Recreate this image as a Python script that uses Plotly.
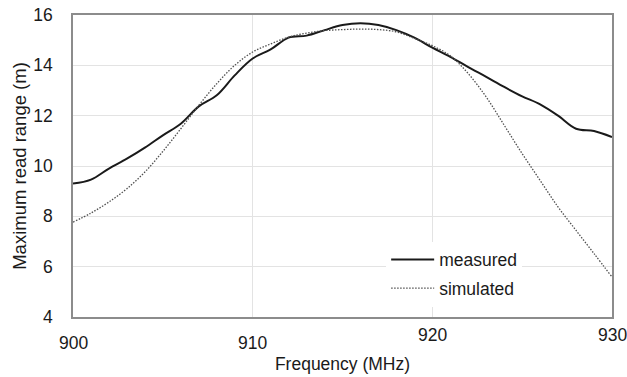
import plotly.graph_objects as go

freq = list(range(900, 931))
measured = [9.30, 9.46, 9.90, 10.29, 10.73, 11.22, 11.68, 12.37, 12.81, 13.60,
            14.27, 14.63, 15.10, 15.18, 15.40, 15.60, 15.67, 15.60, 15.40, 15.10,
            14.70, 14.34, 13.93, 13.54, 13.14, 12.77, 12.45, 12.00, 11.48, 11.39, 11.15]
simulated = [7.77, 8.13, 8.57, 9.10, 9.76, 10.58, 11.48, 12.41, 13.27, 14.00,
             14.53, 14.85, 15.12, 15.28, 15.38, 15.42, 15.44, 15.42, 15.33, 15.07,
             14.78, 14.38, 13.67, 12.74, 11.62, 10.49, 9.43, 8.37, 7.44, 6.52, 5.59]

x_ticks = [900, 910, 920, 930]
x_tick_labels = ["900", "910", "920", "930"]
y_ticks = [4, 6, 8, 10, 12, 14, 16]

FONT = "Liberation Sans, Arial, sans-serif"

fig = go.Figure()
fig.add_trace(go.Scatter(x=freq, y=measured, name="measured", mode="lines",
                         line=dict(color="#1a1a1a", width=2, shape="spline"),
                         legendgroup="a"))
fig.add_trace(go.Scatter(x=freq, y=simulated, name="simulated", mode="lines",
                         line=dict(color="#505050", width=1.3, dash="1.5px,1.5px", shape="spline"),
                         legendgroup="b"))

# x tick labels (staggered as in the reference)
label_offsets = [-26, -26, -18, -18]
for v, t, off in zip(x_ticks, x_tick_labels, label_offsets):
    fig.add_annotation(x=v, y=0, xref="x", yref="paper", text=t, showarrow=False,
                       yanchor="middle", yshift=off,
                       font=dict(family=FONT, size=17.5, color="#1a1a1a"))

fig.update_layout(
    width=627, height=377,
    margin=dict(l=73, r=15, t=15, b=60, autoexpand=False),
    paper_bgcolor="white", plot_bgcolor="white",
    font=dict(family=FONT, size=17.5, color="#1a1a1a"),
    showlegend=True,
    legend=dict(x=0.581, y=0.25, xanchor="left", yanchor="top",
                bgcolor="white", borderwidth=0, font=dict(family=FONT, size=17.5),
                traceorder="grouped", tracegroupgap=3, itemwidth=43),
)
fig.update_xaxes(range=[900, 930], tickvals=x_ticks, showticklabels=False,
                 showgrid=True, gridcolor="#e3e3e3", gridwidth=1,
                 showline=True, linecolor="#8c8c8c", linewidth=1.5, mirror=True,
                 zeroline=False, ticks="", automargin=False,
                 title=dict(text="Frequency (MHz)", font=dict(size=17.5), standoff=40))
fig.update_yaxes(range=[4, 16], tickvals=y_ticks,
                 showgrid=True, gridcolor="#e3e3e3", gridwidth=1,
                 showline=True, linecolor="#8c8c8c", linewidth=1.5, mirror=True,
                 zeroline=False, ticks="", ticklabelstandoff=15, automargin=False,
                 tickfont=dict(size=17.5),
                 title=dict(text="Maximum read range (m)", font=dict(size=18.5), standoff=2))

fig.write_html("out.html", config={"displayModeBar": False},
               post_script="document.body.style.margin='0';")
